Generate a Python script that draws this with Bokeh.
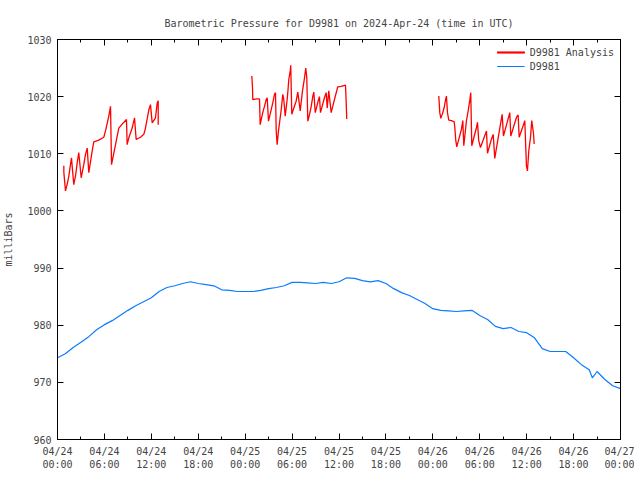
import numpy as np
import pandas as pd
from bokeh.plotting import figure
from bokeh.models import (FixedTicker, DatetimeTickFormatter, LinearAxis, DatetimeAxis,
                          Range1d, CustomJSTickFormatter)
from bokeh.embed import file_html
from bokeh.resources import INLINE

# ---------------- data ----------------
start = pd.Timestamp("2024-04-24 00:00")

# D9981 observed pressure (hours after 2024-04-24 00:00 UTC, mb)
obs_hours = [0, 1, 2, 3, 4, 5, 6, 7, 8, 9, 10, 11, 12, 13, 14, 15, 16, 17, 18, 19,
             20, 21, 22, 23, 24, 25, 26, 27, 28, 29, 30, 31, 32, 33, 34, 35, 36, 37,
             38, 39, 40, 41, 42, 43, 44, 45, 46, 47, 48, 49, 50, 51, 52, 53, 54, 55,
             56, 57, 58, 59, 60, 61, 62, 63, 64, 65, 66, 67, 68, 68.4, 69, 70, 71, 72]
obs_mb = [974.3, 975.0, 976.1, 977.0, 978.0, 979.2, 980.1, 980.8, 981.7, 982.6,
          983.4, 984.1, 984.8, 985.9, 986.6, 986.9, 987.3, 987.6, 987.3, 987.1,
          986.9, 986.2, 986.1, 985.9, 985.9, 985.9, 986.1, 986.4, 986.6, 986.9,
          987.5, 987.5, 987.4, 987.3, 987.5, 987.3, 987.6, 988.3, 988.2, 987.8,
          987.6, 987.8, 987.3, 986.4, 985.7, 985.2, 984.5, 983.8, 982.9, 982.6,
          982.5, 982.4, 982.5, 982.6, 981.7, 981.0, 979.8, 979.4, 979.6, 978.9,
          978.7, 977.8, 975.9, 975.4, 975.4, 975.4, 974.3, 973.1, 972.2, 970.8,
          971.9, 970.5, 969.4, 968.9]

# D9981 Analysis, run 1
ana1_hours = [0.81, 0.81, 1.02, 1.24, 1.45, 1.66, 1.79, 1.88, 2.08, 2.30, 2.52, 2.72,
              3.03, 3.36, 3.58, 3.80, 4.00, 4.44, 4.64, 5.28, 5.92, 6.14, 6.56, 6.78,
              6.91, 7.42, 7.84, 8.27, 8.82, 8.91, 9.12, 9.55, 9.85, 10.06, 10.61, 11.04,
              11.25, 11.68, 11.89, 12.11, 12.53, 12.75, 12.88, 12.88]
ana1_mb = [1007.9, 1006.8, 1003.5, 1004.7, 1006.1, 1008.1, 1009.3, 1007.8, 1004.6,
           1006.1, 1008.4, 1010.2, 1005.8, 1008.1, 1009.9, 1011.0, 1006.7, 1010.5,
           1012.1, 1012.4, 1012.9, 1014.0, 1016.6, 1018.3, 1008.1, 1011.6, 1014.5,
           1015.2, 1016.0, 1011.6, 1012.8, 1014.5, 1016.3, 1012.5, 1012.9, 1013.4,
           1014.5, 1017.7, 1018.6, 1015.4, 1016.3, 1018.9, 1019.3, 1015.1]

# D9981 Analysis, run 2
ana2_hours = [24.85, 24.94, 24.97, 25.49, 25.83, 25.92, 26.05, 26.25, 26.47, 26.69,
              26.82, 26.98, 27.24, 27.53, 27.75, 27.88, 27.97, 28.09, 28.26, 28.61,
              28.81, 28.94, 29.12, 29.37, 29.45, 29.58, 29.76, 29.83, 29.96, 30.22,
              30.52, 30.73, 31.04, 31.33, 31.59, 31.75, 31.88, 32.01, 32.23, 32.45,
              32.65, 32.78, 32.96, 33.38, 33.50, 33.63, 34.14, 34.36, 34.49, 34.69,
              35.00, 35.20, 35.42, 35.84, 36.28, 36.83, 36.92, 36.99]
ana2_mb = [1023.6, 1021.5, 1019.5, 1019.6, 1019.6, 1015.1, 1016.0, 1017.2, 1018.3,
           1019.5, 1019.8, 1015.7, 1017.2, 1018.9, 1020.4, 1020.7, 1014.0, 1011.6,
           1014.0, 1017.7, 1020.4, 1019.5, 1016.6, 1019.5, 1020.7, 1023.0, 1024.5,
           1025.5, 1016.9, 1018.0, 1019.2, 1020.8, 1017.5, 1021.0, 1023.3, 1025.0,
           1023.3, 1015.7, 1016.9, 1018.3, 1020.1, 1020.8, 1017.2, 1019.5, 1020.0,
           1017.2, 1019.8, 1020.7, 1018.0, 1021.0, 1017.2, 1018.3, 1019.5, 1021.7,
           1021.8, 1022.0, 1019.0, 1016.1]

# D9981 Analysis, run 3
ana3_hours = [48.76, 48.89, 49.02, 49.23, 49.45, 49.65, 49.74, 49.87, 50.04, 50.38,
              50.73, 50.81, 50.93, 51.06, 51.41, 51.66, 51.83, 51.96, 52.30, 52.52,
              52.72, 52.85, 52.98, 53.58, 53.71, 53.87, 54.09, 54.86, 54.99, 55.50,
              55.72, 55.92, 56.69, 56.87, 57.03, 57.63, 57.84, 57.97, 58.70, 58.91,
              59.04, 59.55, 59.76, 59.97, 60.10, 60.27, 60.49, 60.65, 60.87, 60.96]
ana3_mb = [1020.1, 1017.2, 1016.2, 1017.0, 1018.1, 1019.6, 1020.1, 1017.2, 1015.9,
           1015.8, 1015.6, 1014.6, 1012.4, 1011.2, 1013.0, 1014.3, 1015.8, 1011.4,
           1015.8, 1017.5, 1019.3, 1020.7, 1011.4, 1014.6, 1015.5, 1012.3, 1011.1,
           1014.0, 1010.1, 1012.6, 1013.4, 1009.2, 1015.5, 1016.9, 1013.1, 1016.1,
           1017.2, 1013.1, 1016.4, 1016.8, 1012.9, 1014.9, 1015.8, 1007.9, 1007.0,
           1010.5, 1012.9, 1015.8, 1013.6, 1011.7]

major_tick_hours = list(range(0, 73, 6))
minor_tick_hours = list(range(0, 73, 3))
y_ticks = [960, 970, 980, 990, 1000, 1010, 1020, 1030]

title_text = "Barometric Pressure for D9981 on 2024-Apr-24 (time in UTC)"
y_label = "milliBars"
analysis_label = "D9981 Analysis"
obs_label = "D9981"

# --------------- build ----------------
def to_dt(hours):
    return [start + pd.Timedelta(hours=h) for h in hours]

def to_ms(hours):
    return [(start + pd.Timedelta(hours=h)).value / 1e6 for h in hours]

FONT = "DejaVu Sans Mono"
FS = "10px"

p = figure(frame_width=563, frame_height=400, x_axis_type="datetime",
           x_range=Range1d(start, start + pd.Timedelta(hours=72)),
           y_range=Range1d(960, 1030),
           output_backend="svg", toolbar_location=None,
           min_border_left=53, min_border_right=14, min_border_top=39, min_border_bottom=30)
p.background_fill_color = "white"
p.border_fill_color = "white"
p.outline_line_color = "black"
p.outline_line_width = 1
p.grid.visible = False

p.title.text = title_text
p.title.align = "center"
p.title.text_font = FONT
p.title.text_font_size = FS
p.title.text_font_style = "normal"
p.title.standoff = 21

xt = FixedTicker(ticks=to_ms(major_tick_hours), minor_ticks=to_ms(minor_tick_hours))
fmt = "%m/%d\n%H:%M"
xfmt = DatetimeTickFormatter(hours=fmt, hourmin=fmt, days=fmt, months=fmt,
                             minutes=fmt, seconds=fmt, milliseconds=fmt, years=fmt)
yt = FixedTicker(ticks=y_ticks, minor_ticks=[])
blank = CustomJSTickFormatter(code="return ''")

xa = p.xaxis[0]
xa.ticker = xt
xa.formatter = xfmt
ya = p.yaxis[0]
ya.ticker = yt
ya.axis_label = y_label

for ax in (xa, ya):
    ax.major_label_text_font = FONT
    ax.major_label_text_font_size = FS
    ax.axis_label_text_font = FONT
    ax.axis_label_text_font_size = FS
    ax.axis_label_text_font_style = "normal"
    ax.major_tick_in = 6
    ax.major_tick_out = 0
    ax.minor_tick_in = 3
    ax.minor_tick_out = 0
    ax.axis_line_color = "black"
    ax.major_tick_line_color = "black"
    ax.minor_tick_line_color = "black"
ya.major_label_standoff = 6
ya.axis_label_standoff = 10
xa.major_label_standoff = 6

top = DatetimeAxis(ticker=xt, formatter=blank, major_tick_in=6, major_tick_out=0,
                   minor_tick_in=3, minor_tick_out=0, major_label_text_font_size="0px",
                   major_label_standoff=0)
right = LinearAxis(ticker=yt, formatter=blank, major_tick_in=6, major_tick_out=0,
                   minor_tick_in=0, minor_tick_out=0, major_label_text_font_size="0px",
                   major_label_standoff=0)
p.add_layout(top, "above")
p.add_layout(right, "right")

RED = "#ff0000"
BLUE = "#0a7cff"
for hrs, mb in ((ana1_hours, ana1_mb), (ana2_hours, ana2_mb), (ana3_hours, ana3_mb)):
    p.line(to_dt(hrs), mb, line_color=RED, line_width=1.3, legend_label=analysis_label)
p.line(to_dt(obs_hours), obs_mb, line_color=BLUE, line_width=1.2, legend_label=obs_label)

lg = p.legend[0]
lg.location = "top_right"
lg.label_text_font = FONT
lg.label_text_font_size = FS
lg.border_line_color = None
lg.background_fill_alpha = 0
lg.spacing = 0
lg.padding = 2
lg.margin = 6
lg.glyph_width = 28
lg.glyph_height = 14
lg.label_height = 14

open("out.html", "w").write(file_html(p, INLINE))
